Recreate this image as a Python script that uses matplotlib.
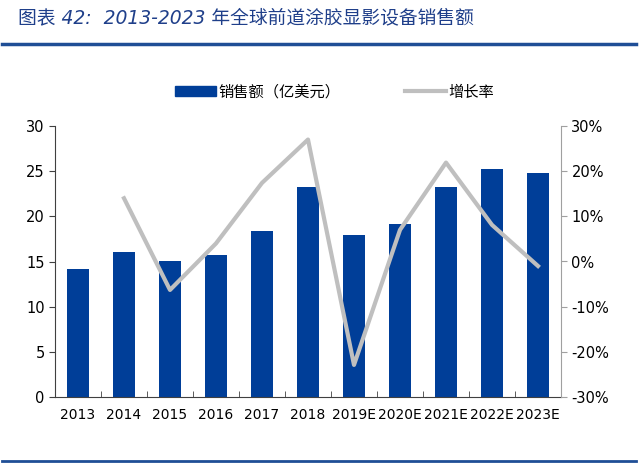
import numpy as np
import matplotlib.pyplot as plt
from matplotlib.lines import Line2D
from matplotlib.patches import Patch

plt.rcParams['font.family'] = ['DejaVu Sans', 'Noto Sans CJK SC']

years = ['2013', '2014', '2015', '2016', '2017', '2018',
         '2019E', '2020E', '2021E', '2022E', '2023E']
sales = [14.2, 16.1, 15.1, 15.7, 18.4, 23.3, 17.9, 19.2, 23.3, 25.2, 24.8]
growth = [None, 14.0, -6.3, 4.0, 17.4, 27.0, -22.9, 7.0, 21.9, 8.1, -1.0]

BLUE = '#003E98'
GREY = '#BFBFBF'
TITLE_BLUE = '#1F3F8A'

fig = plt.figure(figsize=(6.4, 4.65), dpi=100)
ax = fig.add_axes([55 / 640, 1 - 397 / 465, (561 - 55) / 640, (397 - 126) / 465])

x = np.arange(len(years))
ax.bar(x, sales, width=0.48, color=BLUE, zorder=2)
ax.set_xlim(-0.5, len(years) - 0.5)
ax.set_ylim(0, 30)
ax.set_yticks(range(0, 31, 5))
ax.set_xticks(x)
ax.set_xticklabels(years, fontsize=10)
ax.tick_params(axis='x', length=0, pad=8)
ax.set_xticks(np.arange(0.5, len(years) - 1, 1), minor=True)
ax.tick_params(axis='x', which='minor', direction='in', length=4, color='#404040')
ax.tick_params(axis='y', labelsize=10.5, length=4, color='#404040')
for s in ['top', 'right']:
    ax.spines[s].set_visible(False)
ax.spines['left'].set_color('#404040')
ax.spines['bottom'].set_color('#404040')

ax2 = ax.twinx()
gx = [i for i, g in enumerate(growth) if g is not None]
gy = [g for g in growth if g is not None]
ax2.plot(gx, gy, color=GREY, lw=3, zorder=3)
ax2.set_ylim(-30, 30)
ax2.set_yticks(range(-30, 31, 10))
ax2.set_yticklabels([f'{v}%' for v in range(-30, 31, 10)])
ax2.tick_params(axis='y', labelsize=10.5, length=4, color='#A0A0A0')
for s in ['top', 'left', 'bottom']:
    ax2.spines[s].set_visible(False)
ax2.spines['right'].set_color('#A0A0A0')

handles = [Patch(facecolor=BLUE, edgecolor=BLUE),
           Line2D([0], [0], color=GREY, lw=3)]
fig.legend(handles, ['销售额（亿美元）', '增长率'], loc='center',
           bbox_to_anchor=(0.523, 1 - 92 / 465), ncol=2, frameon=False,
           prop={'family': ['Noto Sans CJK SC'], 'size': 11},
           handlelength=2.7, handleheight=0.55, handletextpad=0.15,
           columnspacing=4.2)

fig.text(18 / 640, 1 - 18 / 465, '图表 42:  2013-2023 年全球前道涂胶显影设备销售额',
         fontsize=13.5, style='italic', color=TITLE_BLUE, va='center', ha='left',
         family=['DejaVu Sans', 'Noto Sans CJK SC'])
fig.add_artist(Line2D([2 / 640, 636 / 640], [1 - 44 / 465, 1 - 44 / 465],
                      color='#1F4E96', lw=2.5))
fig.add_artist(Line2D([2 / 640, 636 / 640], [1 - 461 / 465, 1 - 461 / 465],
                      color='#1F4E96', lw=2))

fig.savefig('out.png', dpi=100)
